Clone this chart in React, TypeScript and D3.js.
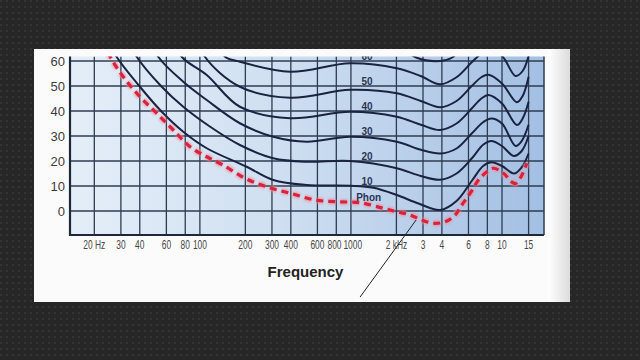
import React from 'react';
import * as d3 from 'd3';

// ---------- data ----------
const xTickValues = [20, 30, 40, 60, 80, 100, 200, 300, 400, 600, 800, 1000, 2000, 3000, 4000, 6000, 8000, 10000, 15000];
const xTickLabels = ['20 Hz', '30', '40', '60', '80', '100', '200', '300', '400', '600', '800', '1000', '2 kHz', '3', '4', '6', '8', '10', '15'];
const yTickValues = [0, 10, 20, 30, 40, 50, 60];

// hearing threshold (red dashed)
const thresholdFreq = [23, 25.7, 31.1, 40.1, 51.8, 66.7, 86, 111, 142, 199, 277, 396, 579, 806, 1150, 1634, 2012, 2467, 2945, 3515, 4209, 4899, 5420, 6155, 6983, 7940, 8770, 10230, 11500, 12300, 13300, 14620];
const thresholdDb = [68, 61.3, 53.7, 45.7, 39.1, 32.4, 25.7, 21.7, 18.4, 13.1, 9.7, 7.1, 4.4, 3.7, 3.3, 1.1, -0.3, -1.6, -3.6, -4.9, -4.3, -1.6, 2.4, 7.1, 12.4, 15.7, 17.1, 15.1, 11.8, 11, 13.5, 19.1];

// equal-loudness contours
const phon10Freq = [24, 28.1, 40.1, 55.9, 77.6, 111, 204, 306, 510, 986, 1408, 2012, 2800, 3900, 5000, 6300, 7500, 8500, 10000, 12000, 13500, 15000];
const phon10Db = [70, 61.7, 49.7, 39.7, 31.7, 25.1, 17.7, 12.4, 10.4, 10.1, 9.3, 6.4, 3, 0.4, 4, 12, 18, 19.5, 18, 15, 17.5, 23];

const phon20Freq = [33, 38.2, 55.9, 77.6, 117, 184, 306, 510, 986, 2012, 2900, 3900, 5000, 6300, 7500, 8500, 10000, 12000, 13500, 15000];
const phon20Db = [70, 61.7, 49.7, 41.7, 33.7, 26.4, 21.1, 19.7, 20, 17.1, 14, 12.5, 15, 21, 26.5, 28, 26, 22, 24, 30];

const phon30Freq = [46, 53, 77.6, 111, 184, 306, 510, 986, 2012, 2900, 3900, 5000, 6300, 7500, 8500, 10000, 12300, 13500, 15000];
const phon30Db = [70, 61.7, 51.7, 44.4, 35.1, 29.7, 27.7, 29.7, 27.7, 24.5, 23, 25, 31, 35.5, 37, 35, 26, 28, 34.5];

const phon40Freq = [66, 75.8, 111, 184, 396, 986, 2012, 2900, 3890, 5000, 6300, 7300, 8130, 10000, 12540, 13700, 15000];
const phon40Db = [70, 61.7, 54.4, 41.7, 37.1, 39.7, 37.7, 34.5, 32.4, 35, 41, 45, 46.4, 43, 34.4, 37, 43.7];

const phon50Freq = [96, 108, 184, 396, 986, 2012, 2900, 3890, 5000, 6300, 7300, 8130, 10000, 12540, 13700, 15000];
const phon50Db = [70, 61.7, 49.7, 45.3, 48.5, 47.1, 44, 41.5, 44, 50, 53.5, 54.5, 51, 43.5, 46, 53.7];

const phon60Freq = [130, 146.8, 184, 396, 986, 2012, 2900, 3890, 5000, 6300, 7300, 8130, 10000, 12300, 13700, 15000];
const phon60Db = [68, 61.7, 59.7, 55.7, 59.1, 57.1, 54, 50.7, 53.5, 59.5, 63, 64.5, 62, 54, 56, 62];

const phon70Freq = [2000, 2729, 3890, 4657, 5500];
const phon70Db = [67, 61.3, 60, 61.3, 66];

const phonLevels = [10, 20, 30, 40, 50, 60];
const phonLabelFreq = 1280;
const pointerTarget = { freq: 2700, db: -3.6 };

// ---------- layout ----------
const W = 640;
const H = 360;
const plot = { left: 70, right: 544, top: 56.5, bottom: 235 };
const labelNudge: Record<number, number> = { 800: -1.8, 1000: 1.8 };

export default function App() {
  const x = d3.scaleLog().domain([20, 10000]).range([94.3, 502]);
  const y = d3.scaleLinear().domain([0, 60]).range([211, 61]);

  const line = d3
    .line<[number, number]>()
    .x((d) => x(d[0]))
    .y((d) => y(d[1]))
    .curve(d3.curveCatmullRom.alpha(0.5));

  const zip = (f: number[], v: number[]) => f.map((fr, i) => [fr, v[i]] as [number, number]);

  const contours = [
    zip(phon10Freq, phon10Db),
    zip(phon20Freq, phon20Db),
    zip(phon30Freq, phon30Db),
    zip(phon40Freq, phon40Db),
    zip(phon50Freq, phon50Db),
    zip(phon60Freq, phon60Db),
    zip(phon70Freq, phon70Db),
  ];
  const threshold = zip(thresholdFreq, thresholdDb);

  const px = x(pointerTarget.freq);
  const py = y(pointerTarget.db);

  return (
    <svg width={W} height={H} style={{ position: 'absolute', left: 0, top: 0 }}>
      <defs>
        <pattern id="tex" width="6" height="6" patternUnits="userSpaceOnUse">
          <rect width="6" height="6" fill="#272727" />
          <rect x="0" y="0" width="2" height="2" fill="#343434" />
        </pattern>
        <linearGradient id="bg" x1="0" x2="1" y1="0" y2="0">
          <stop offset="0" stopColor="#e4eef8" />
          <stop offset="0.45" stopColor="#cfdff1" />
          <stop offset="1" stopColor="#a3bfe3" />
        </linearGradient>
        <linearGradient id="edge" x1="0" x2="1" y1="0" y2="0">
          <stop offset="0" stopColor="#ffffff" />
          <stop offset="1" stopColor="#dcdcdc" />
        </linearGradient>
        <clipPath id="plotClip">
          <rect x={plot.left} y={plot.top} width={plot.right - plot.left} height={plot.bottom - plot.top} />
        </clipPath>
        <filter id="glow" x="-10%" y="-10%" width="120%" height="120%">
          <feGaussianBlur stdDeviation="1.2" />
        </filter>
      </defs>

      <rect width={W} height={H} fill="url(#tex)" />
      {/* white panel */}
      <rect x={34} y={49} width={536} height={253} fill="#fbfbfb" />
      <rect x={548} y={49} width={22} height={253} fill="url(#edge)" />

      {/* plot background */}
      <rect x={plot.left} y={plot.top} width={plot.right - plot.left} height={plot.bottom - plot.top} fill="url(#bg)" />

      <g clipPath="url(#plotClip)">
        {/* grid */}
        {xTickValues.map((v) => (
          <line key={'gx' + v} x1={x(v)} x2={x(v)} y1={plot.top} y2={plot.bottom} stroke="#2e3c50" strokeWidth={1.3} />
        ))}
        {yTickValues.map((v) => (
          <line key={'gy' + v} x1={plot.left} x2={plot.right} y1={y(v)} y2={y(v)} stroke="#2e3c50" strokeWidth={1.3} />
        ))}

        {/* contours */}
        {contours.map((c, i) => (
          <path key={'c' + i} d={line(c) || ''} fill="none" stroke="#1a2340" strokeWidth={2} />
        ))}

        {/* threshold */}
        <path d={line(threshold) || ''} fill="none" stroke="#f28a9c" strokeWidth={6} strokeDasharray="7 5" opacity={0.75} filter="url(#glow)" />
        <path d={line(threshold) || ''} fill="none" stroke="#d8243a" strokeWidth={3.2} strokeDasharray="7 5" />

        {/* phon labels */}
        {phonLevels.map((p) => (
          <text
            key={'pl' + p}
            x={x(phonLabelFreq)}
            y={y(p + 2) + 3.5}
            textAnchor="middle"
            fontFamily="'Liberation Sans', Arial, sans-serif"
            fontWeight={700}
            fontSize={10}
            fill="#2b3553"
          >
            {p}
          </text>
        ))}
        <text
          x={x(phonLabelFreq) + 1.5}
          y={y(5.3) + 3.5}
          textAnchor="middle"
          fontFamily="'Liberation Sans', Arial, sans-serif"
          fontWeight={700}
          fontSize={10}
          fill="#2b3553"
        >
          Phon
        </text>
      </g>

      {/* borders */}
      <line x1={plot.left} x2={plot.left} y1={plot.top} y2={plot.bottom + 1} stroke="#1d2838" strokeWidth={2.2} />
      <line x1={plot.left} x2={plot.right} y1={plot.bottom} y2={plot.bottom} stroke="#1d2838" strokeWidth={2.2} />
      <line x1={plot.right} x2={plot.right} y1={plot.top} y2={plot.bottom} stroke="#2e3c50" strokeWidth={1.5} />

      {/* y tick labels */}
      {yTickValues.map((v) => (
        <text
          key={'yt' + v}
          x={65}
          y={y(v) + 4.6}
          textAnchor="end"
          fontFamily="'Liberation Sans', Arial, sans-serif"
          fontSize={13}
          fill="#3c3c3c"
        >
          {v}
        </text>
      ))}

      {/* x tick labels (condensed) */}
      {xTickValues.map((v, i) => (
        <text
          key={'xt' + v}
          transform={`translate(${x(v) + (labelNudge[v] ?? 0)},249) scale(0.7,1)`}
          textAnchor="middle"
          fontFamily="'Liberation Sans', Arial, sans-serif"
          fontSize={12}
          fill="#474747"
        >
          {xTickLabels[i]}
        </text>
      ))}

      {/* axis title */}
      <text
        x={305.5}
        y={277}
        textAnchor="middle"
        fontFamily="'Liberation Sans', Arial, sans-serif"
        fontWeight={700}
        fontSize={15}
        fill="#222"
      >
        Frequency
      </text>

      {/* pointer line */}
      <line x1={px - 56} y1={py + 77} x2={px} y2={py} stroke="#222" strokeWidth={1} />
    </svg>
  );
}
